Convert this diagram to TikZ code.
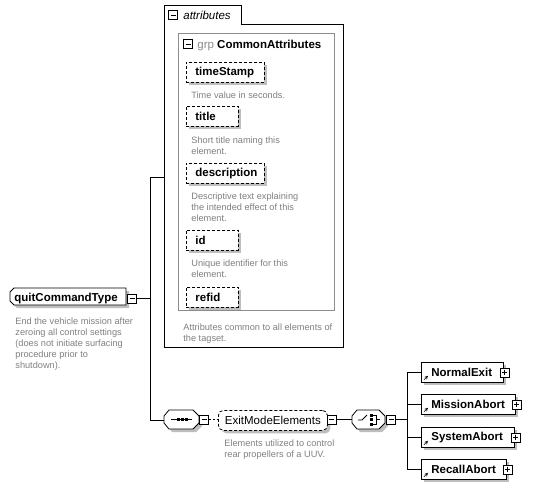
\documentclass[tikz,border=0pt]{standalone}
\usepackage{fontspec}
\setmainfont{Liberation Sans}
\usetikzlibrary{positioning,shadows}

\definecolor{descgray}{RGB}{128,128,128}
\definecolor{shadowgray}{RGB}{190,190,190}
\definecolor{grpgray}{RGB}{140,140,140}

\tikzset{
  every path/.style={line width=0.8pt},
  boxshadow/.style={drop shadow={shadow xshift=3pt, shadow yshift=-3pt, fill=shadowgray, draw=none, opacity=1}},
  attr/.style={draw, fill=white, dash pattern=on 3pt off 2pt, boxshadow, anchor=north west,
    minimum height=20pt, inner xsep=9pt, inner ysep=0pt, align=left, text width=#1,
    font=\bfseries\fontsize{11.5}{13}\selectfont},
  elem/.style={draw, fill=white, boxshadow, anchor=north west,
    minimum height=20pt, inner xsep=10pt, inner ysep=0pt, align=left, text width=#1,
    font=\bfseries\fontsize{11.5}{13}\selectfont},
  desc/.style={text=descgray, anchor=base west, inner sep=0pt, align=left,
    font=\fontsize{9.2}{11}\selectfont},
  collapse/.pic={\draw[fill=white] (-4.5,-4.5) rectangle (4.5,4.5); \draw (-2.5,0) -- (2.5,0);},
  expand/.pic={\draw[fill=white] (-4.5,-4.5) rectangle (4.5,4.5); \draw (-2.5,0) -- (2.5,0) (0,-2.5) -- (0,2.5);},
}

\begin{document}
\begin{tikzpicture}[x=1pt,y=-1pt]
  \useasboundingbox (0,0) rectangle (537,490);

  % attributes container (desc nodes anchored on their last line)
  \draw[fill=white] (164,5) -- (241,5) -- (241,24) -- (343,24) -- (343,347) -- (164,347) -- cycle;
  \pic at (173,15) {collapse};
  \node[anchor=base west, inner sep=0pt, font=\itshape\fontsize{11.5}{13}\selectfont] (attrTitle) at (183,19) {attributes};

  % group CommonAttributes
  \draw[grpgray] (178,33) rectangle (334,310);
  \pic at (188,44) {collapse};
  \node[anchor=base west, inner sep=0pt, font=\fontsize{11.5}{13}\selectfont] (grpTitle) at (197,48)
    {\textcolor{grpgray}{grp} \textbf{CommonAttributes}};

  \node[attr=60pt] (timeStamp) at (186,62) {timeStamp};
  \node[desc] (timeStampDesc) at (191,98.5) {Time value in seconds.};

  \node[attr=34pt] (title) at (186,106) {title};
  \node[desc] (titleDesc) at (191,154.5) {Short title naming this\\element.};

  \node[attr=60pt] (description) at (186,163) {description};
  \node[desc] (descriptionDesc) at (191,221.5) {Descriptive text explaining\\the intended effect of this\\element.};

  \node[attr=34pt] (id) at (186,230) {id};
  \node[desc] (idDesc) at (191,277.5) {Unique identifier for this\\element.};

  \node[attr=34pt] (refid) at (186,287) {refid};
  \node[desc] (grpDesc) at (183,341.5) {Attributes common to all elements of\\the tagset.};

  % root type
  \draw[fill=shadowgray, draw=none] (17,291) -- (129,291) -- (129,308) -- (17,308) -- (13,304) -- (13,295) -- cycle;
  \draw[fill=white] (14,288) -- (126,288) -- (126,305) -- (14,305) -- (10,301) -- (10,292) -- cycle;
  \node[anchor=base west, inner sep=0pt, font=\bfseries\fontsize{11.5}{13}\selectfont] (quitCommandType) at (14,301) {quitCommandType};
  \pic at (132,298.5) {collapse};
  \coordinate (rootOut) at (136.5,298.5);
  \node[desc] (quitDesc) at (15,368.5) {End the vehicle mission after\\zeroing all control settings\\(does not initiate surfacing\\procedure prior to\\shutdown).};

  % sequence
  \coordinate (trunk) at (150,298.5);
  \draw (rootOut) -- (trunk);
  \draw (150,177) -- (150,420);
  \draw (150,177) -- (164,177);
  \draw (150,420) -- (164,420);
  \draw[fill=shadowgray, draw=none] (172,413) -- (196,413) -- (202,419) -- (202,426) -- (196,432) -- (172,432) -- (167,426) -- (167,419) -- cycle;
  \draw[fill=white] (169,410) -- (193,410) -- (199,416) -- (199,423) -- (193,429) -- (169,429) -- (164,423) -- (164,416) -- cycle;
  \draw (171,419.5) -- (192,419.5);
  \foreach \x in {178,182,186}
    \fill (\x-1.5,418) rectangle (\x+1.5,421);
  \pic at (204,419.5) {collapse};
  \draw[dash pattern=on 2pt off 2pt] (208.5,419.5) -- (218,419.5);

  % group reference
  \node[draw, fill=white, dash pattern=on 3pt off 2pt, rounded corners=5pt, boxshadow, anchor=north west,
    minimum width=109pt, minimum height=20pt, inner sep=0pt, font=\fontsize{11.5}{13}\selectfont] (ExitModeElements) at (218,410) {ExitModeElements};
  \pic at (331.5,419.5) {collapse};
  \node[desc] (exitDesc) at (224,457) {Elements utilized to control\\rear propellers of a UUV.};

  % choice
  \draw (336,419.5) -- (352,419.5);
  \draw[fill=shadowgray, draw=none] (360,413) -- (382,413) -- (388,419) -- (388,426) -- (382,432) -- (360,432) -- (355,426) -- (355,419) -- cycle;
  \draw[fill=white] (357,410) -- (379,410) -- (385,416) -- (385,423) -- (379,429) -- (357,429) -- (352,423) -- (352,416) -- cycle;
  \draw (358,420) -- (362,420) -- (367,415);
  \foreach \y in {415,419.5,424}
    \fill (369.5,\y-1.5) rectangle (372.5,\y+1.5);
  \draw (373,415) -- (376,415) -- (376,424) -- (373,424) (376,419.5) -- (380,419.5);
  \pic at (391,419.5) {collapse};
  \draw (395.5,419.5) -- (407,419.5);

  % choice members
  \draw (407,372) -- (407,469);
  \node[elem=62pt] (NormalExit) at (421,362) {NormalExit};
  \node[elem=74pt] (MissionAbort) at (421,394) {MissionAbort};
  \node[elem=73pt] (SystemAbort) at (421,427) {SystemAbort};
  \node[elem=65pt] (RecallAbort) at (421,459) {RecallAbort};
  \foreach \n in {NormalExit,MissionAbort,SystemAbort,RecallAbort} {
    \draw (407,0 |- \n.west) -- (\n.west);
    \pic at ([xshift=1pt]\n.east) {expand};
    \draw[-stealth, line width=0.6pt] ([xshift=3pt,yshift=3pt]\n.south west) -- ++(4,-4);
  }
\end{tikzpicture}
\end{document}
